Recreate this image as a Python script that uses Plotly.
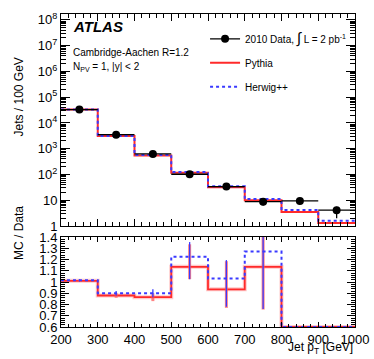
import numpy as np
import plotly.graph_objects as go

# ---------------- data ----------------
bin_edges = [200, 300, 400, 500, 600, 700, 800, 900, 1000]
bin_centers = [250, 350, 450, 550, 650, 750, 850, 950]
bin_halfwidth = [50, 50, 50, 50, 50, 50, 50, 50]

data_vals = [33000, 3500, 630, 102, 34, 8.8, 9.4, 4.1]
data_err_up = [300, 60, 20, 8, 4, 2.5, 2.5, 1.5]
data_err_dn = [300, 60, 20, 8, 4, 2.5, 2.5, 2.1]

pythia_vals = [33300, 3100, 545, 116, 32, 10.0, 3.5, 1.3]
herwig_vals = [33500, 3150, 570, 125, 35, 11.2, 4.2, 1.6]

ratio_pythia = [1.01, 0.88, 0.865, 1.135, 0.935, 1.135, 0.37, 0.32]
ratio_herwig = [1.015, 0.90, 0.90, 1.225, 1.03, 1.27, 0.45, 0.39]
ratio_pythia_err_up = [0.01, 0.02, 0.035, 0.2, 0.25, 0.45, 0, 0]
ratio_pythia_err_dn = [0.01, 0.02, 0.035, 0.11, 0.165, 0.38, 0, 0]
ratio_herwig_err_up = [0.01, 0.02, 0.035, 0.13, 0.165, 0.5, 0, 0]
ratio_herwig_err_dn = [0.01, 0.02, 0.035, 0.2, 0.25, 0.51, 0, 0]

y_tick_vals = [1, 10, 100, 1e3, 1e4, 1e5, 1e6, 1e7, 1e8]
y_tick_text = ["1", "10", "10<sup>2</sup>", "10<sup>3</sup>", "10<sup>4</sup>",
               "10<sup>5</sup>", "10<sup>6</sup>", "10<sup>7</sup>", "10<sup>8</sup>"]
r_tick_vals = [0.6, 0.7, 0.8, 0.9, 1.0, 1.1, 1.2, 1.3, 1.4]
r_tick_text = ["0.6", "0.7", "0.8", "0.9", "1", "1.1", "1.2", "1.3", "1.4"]
x_tick_vals = [200, 300, 400, 500, 600, 700, 800, 900, 1000]

RATIO_MIN = 0.6


def step(vals):
    return list(vals) + [vals[-1]]


RED = "#ff2a2a"
BLUE = "#3a3aff"
FONT = "Liberation Sans"

fig = go.Figure()

# legend entry for data (first so it is listed first)
fig.add_trace(go.Scatter(x=[None], y=[None], mode="lines+markers",
                         marker=dict(color="black", size=8), line=dict(color="black", width=1.3),
                         name="2010 Data, <span style='font-size:15px'>∫</span> L = 2 pb<sup>-1</sup>",
                         legendgroup="a", xaxis="x", yaxis="y"))

# ---- top panel ----
fig.add_trace(go.Scatter(x=bin_edges, y=step(pythia_vals), mode="lines", line_shape="hv",
                         line=dict(color=RED, width=2), xaxis="x", yaxis="y",
                         name="Pythia", legendgroup="b", showlegend=True))
fig.add_trace(go.Scatter(x=bin_edges, y=step(herwig_vals), mode="lines", line_shape="hv",
                         line=dict(color=BLUE, width=2, dash="dot"), xaxis="x", yaxis="y",
                         name="Herwig++", legendgroup="c", showlegend=True))
fig.add_trace(go.Scatter(x=bin_centers, y=data_vals, mode="markers",
                         marker=dict(color="black", size=8),
                         error_x=dict(type="data", array=bin_halfwidth, color="black", thickness=1.3, width=0),
                         error_y=dict(type="data", array=data_err_up, arrayminus=data_err_dn,
                                      color="black", thickness=1.3, width=0),
                         xaxis="x", yaxis="y", showlegend=False))

# ---- ratio panel ----
rp = np.clip(ratio_pythia, RATIO_MIN, None)
rh = np.clip(ratio_herwig, RATIO_MIN, None)
fig.add_trace(go.Scatter(x=bin_edges, y=step(rp), mode="lines", line_shape="hv",
                         line=dict(color="rgba(255,60,60,0.28)", width=4), xaxis="x2", yaxis="y2",
                         showlegend=False, hoverinfo="skip"))
fig.add_trace(go.Scatter(x=bin_edges, y=step(rp), mode="lines", line_shape="hv",
                         line=dict(color=RED, width=1.8), xaxis="x2", yaxis="y2", showlegend=False))
fig.add_trace(go.Scatter(x=bin_centers[:6], y=ratio_pythia[:6], mode="markers",
                         marker=dict(size=1, color=RED),
                         error_y=dict(type="data", array=ratio_pythia_err_up[:6],
                                      arrayminus=ratio_pythia_err_dn[:6],
                                      color="rgba(255,90,90,0.75)", thickness=3, width=0),
                         xaxis="x2", yaxis="y2", showlegend=False))
fig.add_trace(go.Scatter(x=bin_edges, y=step(rh), mode="lines", line_shape="hv",
                         line=dict(color=BLUE, width=2, dash="dot"), xaxis="x2", yaxis="y2",
                         showlegend=False))
fig.add_trace(go.Scatter(x=bin_centers[:6], y=ratio_herwig[:6], mode="markers",
                         marker=dict(size=1, color=BLUE),
                         error_y=dict(type="data", array=ratio_herwig_err_up[:6],
                                      arrayminus=ratio_herwig_err_dn[:6],
                                      color=BLUE, thickness=1.3, width=0),
                         xaxis="x2", yaxis="y2", showlegend=False))

axis_common = dict(showline=True, linecolor="black", linewidth=1, mirror="allticks",
                   ticks="inside", tickcolor="black", showgrid=False, zeroline=False,
                   automargin=False,
                   tickfont=dict(family=FONT, size=13, color="black"))

H = 313.0
top_bottom = 1 - 212 / H
bot_top = 90 / H

fig.update_layout(
    width=374, height=359,
    margin=dict(l=61, r=19, t=14, b=32),
    paper_bgcolor="white", plot_bgcolor="white",
    font=dict(family=FONT, color="black"),
    xaxis=dict(domain=[0, 1], range=[200, 1000], anchor="y", tickvals=x_tick_vals,
               showticklabels=False, ticklen=7,
               minor=dict(dtick=20, ticks="inside", ticklen=4, tickcolor="black"),
               **axis_common),
    yaxis=dict(domain=[top_bottom, 1], type="log", range=[0, 8.23], anchor="x",
               tickvals=y_tick_vals, ticktext=y_tick_text, ticklen=9,
               minor=dict(dtick="D1", ticks="inside", ticklen=5, tickcolor="black"),
               **axis_common),
    xaxis2=dict(domain=[0, 1], range=[200, 1000], anchor="y2", tickvals=x_tick_vals,
                ticklen=5,
                minor=dict(dtick=20, ticks="inside", ticklen=3, tickcolor="black"),
                **axis_common),
    yaxis2=dict(domain=[0, bot_top], range=[0.6, 1.4], anchor="x2",
                tickvals=r_tick_vals, ticktext=r_tick_text, ticklen=8,
                minor=dict(dtick=0.02, ticks="inside", ticklen=4, tickcolor="black"),
                **axis_common),
    legend=dict(x=0.49, y=0.967, xanchor="left", yanchor="top",
                bgcolor="rgba(0,0,0,0)", font=dict(family=FONT, size=10, color="black"),
                tracegroupgap=5, itemwidth=30, traceorder="grouped"),
    annotations=[
        dict(text="<b><i>ATLAS</i></b>", x=0.035, y=(327 - 27) / H, xref="paper", yref="paper",
             xanchor="left", yanchor="middle", showarrow=False,
             font=dict(family=FONT, size=15, color="black")),
        dict(text="Cambridge-Aachen R=1.2", x=0.035, y=(327 - 52) / H, xref="paper", yref="paper",
             xanchor="left", yanchor="middle", showarrow=False,
             font=dict(family=FONT, size=10, color="black")),
        dict(text="N<sub>PV</sub> = 1, |y| &lt; 2", x=0.035, y=(327 - 67) / H, xref="paper", yref="paper",
             xanchor="left", yanchor="middle", showarrow=False,
             font=dict(family=FONT, size=10, color="black")),
        dict(text="Jets / 100 GeV", x=(9 - 61) / 294, y=(327 - 56) / H, xref="paper", yref="paper",
             textangle=-90, showarrow=False, font=dict(family=FONT, size=12, color="black")),
        dict(text="MC / Data", x=(10 - 61) / 294, y=(327 - 262) / H, xref="paper", yref="paper",
             textangle=-90, showarrow=False, font=dict(family=FONT, size=12, color="black")),
        dict(text="Jet p<sub>T</sub> [GeV]", x=1, y=(327 - 348) / H, xref="paper", yref="paper",
             xanchor="right", yanchor="middle", showarrow=False,
             font=dict(family=FONT, size=12, color="black")),
    ],
)

fig.write_html("out.html", config={"displayModeBar": False},
               post_script="document.body.style.margin='0px';")
